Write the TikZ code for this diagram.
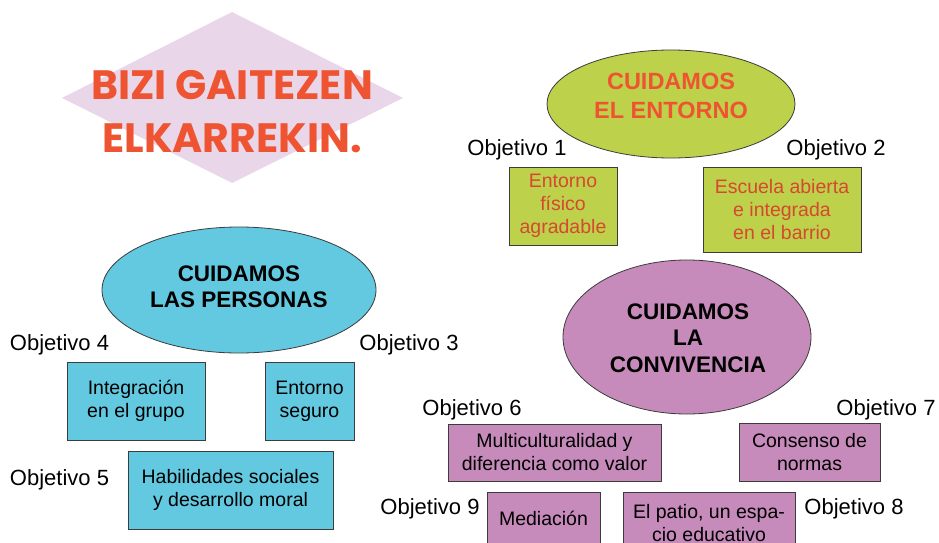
\documentclass[tikz,border=0pt]{standalone}
\usepackage{fontspec}
\setmainfont{Liberation Sans}
\newfontfamily\titulofont{Poppins}
\usetikzlibrary{shapes.geometric}
\definecolor{verde}{RGB}{189,209,74}
\definecolor{azul}{RGB}{98,201,225}
\definecolor{morado}{RGB}{198,138,187}
\definecolor{rosa}{RGB}{233,215,233}
\definecolor{rojo}{RGB}{238,84,50}
\definecolor{rojocaja}{RGB}{214,72,48}
\definecolor{borde}{RGB}{60,60,60}
\tikzset{
  caja/.style={draw=borde, line width=0.8pt, inner sep=0pt, align=center,
    font=\fontsize{19.5}{23}\selectfont},
  globo/.style={ellipse, draw=borde, line width=0.8pt, inner sep=0pt},
  lema/.style={align=center, font=\fontsize{22.5}{26.5}\selectfont\bfseries},
  objetivo/.style={anchor=base, inner sep=0pt, font=\fontsize{22}{26}\selectfont}
}
\begin{document}
\begin{tikzpicture}[x=1pt,y=-1pt]
\clip (0,0) rectangle (939,543);
\fill[white] (0,0) rectangle (939,543);
\fill[rosa] (62,98) -- (232,12) -- (403,98) -- (232,183) -- cycle;
\node[align=center, text=rojo, font=\titulofont\bfseries\fontsize{41}{53}\selectfont] (titulo) at (232,112) {BIZI GAITEZEN\\ELKARREKIN.};
\node[globo, fill=verde, minimum width=248, minimum height=108] (entorno) at (671,104) {};
\node[lema, text=rojo, font=\fontsize{23.5}{29}\selectfont\bfseries] (entornotxt) at (671,96) {CUIDAMOS\\EL ENTORNO};
\node[globo, fill=azul, minimum width=274, minimum height=126] (personas) at (239,290) {};
\node[lema] (personastxt) at (239,287) {CUIDAMOS\\LAS PERSONAS};
\node[globo, fill=morado, minimum width=248, minimum height=154] (convivencia) at (687,337) {};
\node[lema] (convivenciatxt) at (688,338) {CUIDAMOS\\LA\\CONVIVENCIA};
\node[caja, fill=verde, text=rojocaja, minimum width=108, minimum height=78] (fisico) at (563,206) {Entorno\\físico\\agradable};
\node[caja, fill=verde, text=rojocaja, minimum width=158, minimum height=85] (escuela) at (782,209.5) {Escuela abierta\\e integrada\\en el barrio};
\node[caja, fill=azul, minimum width=138, minimum height=78] (integracion) at (136,401) {Integración\\en el grupo};
\node[caja, fill=azul, minimum width=89, minimum height=78] (seguro) at (309.5,401) {Entorno\\seguro};
\node[caja, fill=azul, minimum width=205, minimum height=78] (habilidades) at (230.5,490) {Habilidades sociales\\y desarrollo moral};
\node[caja, fill=morado, minimum width=213, minimum height=57] (multi) at (554.5,452.5) {Multiculturalidad y\\diferencia como valor};
\node[caja, fill=morado, minimum width=141, minimum height=58] (consenso) at (809.5,452) {Consenso de\\normas};
\node[caja, fill=morado, minimum width=113, minimum height=62, text depth=9] (mediacion) at (543.5,523) {Mediación};
\node[caja, fill=morado, minimum width=172, minimum height=62] (patio) at (709,523) {El patio, un espa-\\cio educativo};
\node[objetivo] (obj1) at (517,155) {Objetivo 1};
\node[objetivo] (obj2) at (836,155) {Objetivo 2};
\node[objetivo] (obj3) at (409,350) {Objetivo 3};
\node[objetivo] (obj4) at (59.5,350) {Objetivo 4};
\node[objetivo] (obj5) at (59.5,485) {Objetivo 5};
\node[objetivo] (obj6) at (472,415) {Objetivo 6};
\node[objetivo] (obj7) at (886,415) {Objetivo 7};
\node[objetivo] (obj8) at (854,514) {Objetivo 8};
\node[objetivo] (obj9) at (430,514) {Objetivo 9};
\end{tikzpicture}
\end{document}
